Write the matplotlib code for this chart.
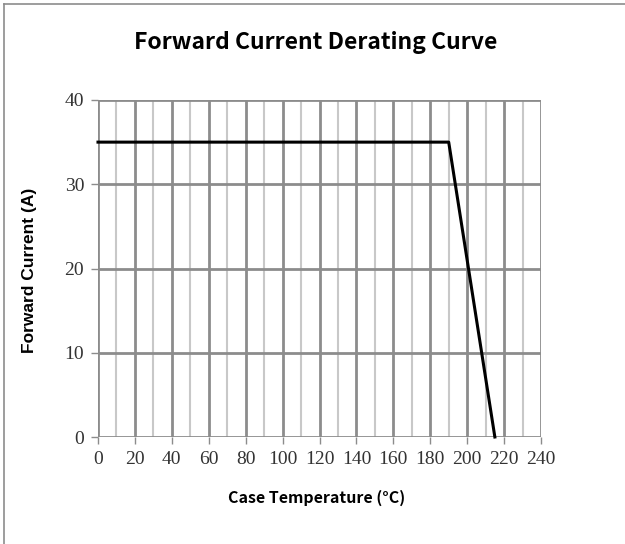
import numpy as np
import matplotlib
matplotlib.use("Agg")
import matplotlib.pyplot as plt
from matplotlib.lines import Line2D

temp_c = [0, 190, 215]
current_a = [35, 35, 0]
x_ticks = list(range(0, 241, 20))
y_ticks = [0, 10, 20, 30, 40]

fig = plt.figure(figsize=(6.25, 5.44), dpi=100)
ax = fig.add_axes([98 / 625, 1 - 437 / 544, 443 / 625, 337 / 544])

ax.set_xlim(0, 240)
ax.set_ylim(0, 40)
ax.set_xticks(x_ticks)
ax.set_yticks(y_ticks)
ax.set_xticks(np.arange(10, 240, 20), minor=True)

ax.grid(which="major", color="#8c8c8c", lw=2.0)
ax.grid(which="minor", axis="x", color="#c8c8c8", lw=1.5)
ax.set_axisbelow(True)
for s in ax.spines.values():
    s.set_visible(False)
ax.tick_params(which="major", length=5, width=1, color="#8c8c8c", pad=5)
ax.tick_params(which="minor", length=0)

tick_font = {"family": ["Liberation Serif", "DejaVu Serif"], "size": 14}
ax.set_xticklabels([str(t) for t in x_ticks], fontdict=tick_font, color="#333333")
ax.set_yticklabels([str(t) for t in y_ticks], fontdict=tick_font, color="#333333")

ax.plot(temp_c, current_a, color="black", lw=2.2, clip_on=False, zorder=5)

fig.text(316 / 625, 1 - 42 / 544, "Forward Current Derating Curve",
         ha="center", va="center", fontsize=16.5, fontweight="bold",
         family=["Noto Sans CJK SC", "DejaVu Sans"])
fig.text(30 / 625, 1 - 270 / 544, "Forward Current (A)", rotation=90,
         ha="center", va="center", fontsize=12.5, fontweight="bold",
         family=["Liberation Sans", "DejaVu Sans"])
fig.text(317 / 625, 1 - 498 / 544, "Case Temperature (°C)",
         ha="center", va="center", fontsize=11.5, fontweight="bold",
         family=["Noto Sans CJK SC", "DejaVu Sans"])

# partial frame of the original screenshot (top and left edges)
fig.add_artist(Line2D([4 / 625, 4 / 625], [0, 1 - 4 / 544], transform=fig.transFigure, color="#8c8c8c", lw=1.2))
fig.add_artist(Line2D([4 / 625, 1], [1 - 4 / 544, 1 - 4 / 544], transform=fig.transFigure, color="#8c8c8c", lw=1.2))

fig.savefig("out.png", dpi=100)
